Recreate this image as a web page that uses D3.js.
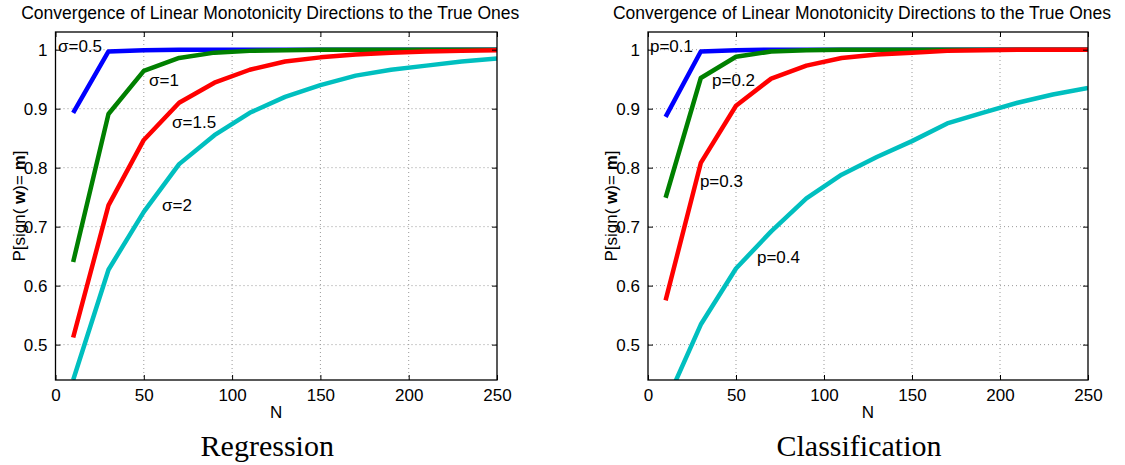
<!DOCTYPE html>
<html>
<head>
<meta charset="utf-8">
<script src="https://cdn.jsdelivr.net/npm/d3@7"></script>
<style>
  body { margin: 0; background: #fff; }
  svg text { font-family: "Liberation Sans", Arial, sans-serif; fill: #000; }
  .caption { font-family: "Liberation Serif", "Times New Roman", serif; }
</style>
</head>
<body>
<div id="chart"></div>
<script>
// Data
var nValues = [10, 30, 50, 70, 90, 110, 130, 150, 170, 190, 210, 230, 250];

var regSigma05 = [0.893, 0.997, 0.999, 1.0, 1.0, 1.0, 1.0, 1.0, 1.0, 1.0, 1.0, 1.0, 1.0];
var regSigma1  = [0.640, 0.891, 0.964, 0.986, 0.995, 0.998, 0.999, 1.0, 1.0, 1.0, 1.0, 1.0, 1.0];
var regSigma15 = [0.512, 0.736, 0.847, 0.910, 0.944, 0.966, 0.980, 0.987, 0.992, 0.995, 0.997, 0.998, 0.999];
var regSigma2  = [0.440, 0.627, 0.725, 0.806, 0.855, 0.893, 0.920, 0.940, 0.956, 0.966, 0.973, 0.980, 0.985];

var clsP01 = [0.886, 0.997, 0.999, 1.0, 1.0, 1.0, 1.0, 1.0, 1.0, 1.0, 1.0, 1.0, 1.0];
var clsP02 = [0.749, 0.952, 0.988, 0.997, 0.999, 1.0, 1.0, 1.0, 1.0, 1.0, 1.0, 1.0, 1.0];
var clsP03 = [0.575, 0.808, 0.905, 0.951, 0.973, 0.986, 0.992, 0.995, 0.998, 0.999, 1.0, 1.0, 1.0];
var clsP04 = [0.400, 0.534, 0.629, 0.692, 0.748, 0.788, 0.818, 0.845, 0.875, 0.893, 0.910, 0.924, 0.935];

var xTicks = [0, 50, 100, 150, 200, 250];
var yTicks = [0.5, 0.6, 0.7, 0.8, 0.9, 1];

var regLabels = [
  {text: "σ=0.5", n: 1.4, v: 1.007},
  {text: "σ=1", n: 53, v: 0.949},
  {text: "σ=1.5", n: 66, v: 0.878},
  {text: "σ=2", n: 60.3, v: 0.736}
];
var clsLabels = [
  {text: "p=0.1", n: 1.1, v: 1.007},
  {text: "p=0.2", n: 36.4, v: 0.949},
  {text: "p=0.3", n: 29.5, v: 0.778},
  {text: "p=0.4", n: 61.9, v: 0.649}
];

var colors = ["#0000ff", "#008000", "#ff0000", "#00bfbf"];

var svg = d3.select("#chart").append("svg")
  .attr("width", 1125)
  .attr("height", 465);

function drawPanel(id, left, right, series, labels, caption) {
  var top = 32, bottom = 380;

  var x = d3.scaleLinear().domain([0, 250]).range([left, right]);
  var y = d3.scaleLinear().domain([0.44, 1.03]).range([bottom, top]);

  var g = svg.append("g");

  g.append("clipPath").attr("id", "clip-" + id)
    .append("rect")
    .attr("x", left).attr("y", top)
    .attr("width", right - left).attr("height", bottom - top);

  // dotted grid
  g.selectAll(".gx").data(xTicks.slice(1, -1)).enter().append("line")
    .attr("x1", function(d) { return x(d); }).attr("x2", function(d) { return x(d); })
    .attr("y1", top).attr("y2", bottom)
    .attr("stroke", "#999").attr("stroke-width", 1).attr("stroke-dasharray", "1,3");
  g.selectAll(".gy").data(yTicks).enter().append("line")
    .attr("y1", function(d) { return y(d); }).attr("y2", function(d) { return y(d); })
    .attr("x1", left).attr("x2", right)
    .attr("stroke", "#999").attr("stroke-width", 1).attr("stroke-dasharray", "1,3");

  // lines
  var line = d3.line()
    .x(function(d, i) { return x(nValues[i]); })
    .y(function(d) { return y(d); });

  g.append("g").attr("clip-path", "url(#clip-" + id + ")")
    .selectAll("path").data(series).enter().append("path")
    .attr("d", line)
    .attr("fill", "none")
    .attr("stroke", function(d, i) { return colors[i]; })
    .attr("stroke-width", 4.5)
    .attr("stroke-linejoin", "round");

  // axes, MATLAB style with inward ticks on all sides
  var tick = 5;
  g.append("g").attr("transform", "translate(0," + bottom + ")")
    .call(d3.axisBottom(x).tickValues(xTicks).tickSizeInner(-tick).tickSizeOuter(0).tickPadding(9))
    .call(function(a) { a.select(".domain").remove(); });
  g.append("g").attr("transform", "translate(0," + top + ")")
    .call(d3.axisTop(x).tickValues(xTicks).tickSizeInner(-tick).tickSizeOuter(0).tickFormat(""))
    .call(function(a) { a.select(".domain").remove(); });
  g.append("g").attr("transform", "translate(" + left + ",0)")
    .call(d3.axisLeft(y).tickValues(yTicks).tickSizeInner(-tick).tickSizeOuter(0).tickPadding(8)
      .tickFormat(function(d) { return d === 1 ? "1" : d3.format(".1f")(d); }))
    .call(function(a) { a.select(".domain").remove(); });
  g.append("g").attr("transform", "translate(" + right + ",0)")
    .call(d3.axisRight(y).tickValues(yTicks).tickSizeInner(-tick).tickSizeOuter(0).tickFormat(""))
    .call(function(a) { a.select(".domain").remove(); });

  g.selectAll(".tick line").attr("stroke", "#000").attr("stroke-width", 1);
  g.selectAll(".tick text").style("font-size", "17px").attr("fill", "#000");

  g.append("rect")
    .attr("x", left).attr("y", top)
    .attr("width", right - left).attr("height", bottom - top)
    .attr("fill", "none").attr("stroke", "#000").attr("stroke-width", 1.3);

  // curve labels
  g.selectAll(".lbl").data(labels).enter().append("text")
    .attr("x", function(d) { return x(d.n); })
    .attr("y", function(d) { return y(d.v); })
    .attr("dy", "0.35em")
    .style("font-size", "17px")
    .text(function(d) { return d.text; });

  var cx = (left + right) / 2;

  g.append("text")
    .attr("x", cx - 6).attr("y", 19)
    .attr("text-anchor", "middle")
    .style("font-size", "17.5px")
    .text("Convergence of Linear Monotonicity Directions to the True Ones");

  g.append("text")
    .attr("x", cx).attr("y", 418)
    .attr("text-anchor", "middle")
    .style("font-size", "17px")
    .text("N");

  var yl = g.append("text")
    .attr("transform", "translate(" + (left - 31) + "," + ((top + bottom) / 2) + ") rotate(-90)")
    .attr("text-anchor", "middle")
    .style("font-size", "17px");
  yl.append("tspan").text("P[sign( ");
  yl.append("tspan").style("font-weight", "bold").text("w");
  yl.append("tspan").text(")= ");
  yl.append("tspan").style("font-weight", "bold").text("m");
  yl.append("tspan").text("]");

  g.append("text")
    .attr("class", "caption")
    .attr("x", cx - 9).attr("y", 456)
    .attr("text-anchor", "middle")
    .style("font-size", "30px")
    .text(caption);
}

drawPanel("reg", 55.5, 497, [regSigma05, regSigma1, regSigma15, regSigma2], regLabels, "Regression");
drawPanel("cls", 648, 1088, [clsP01, clsP02, clsP03, clsP04], clsLabels, "Classification");
</script>
</body>
</html>
